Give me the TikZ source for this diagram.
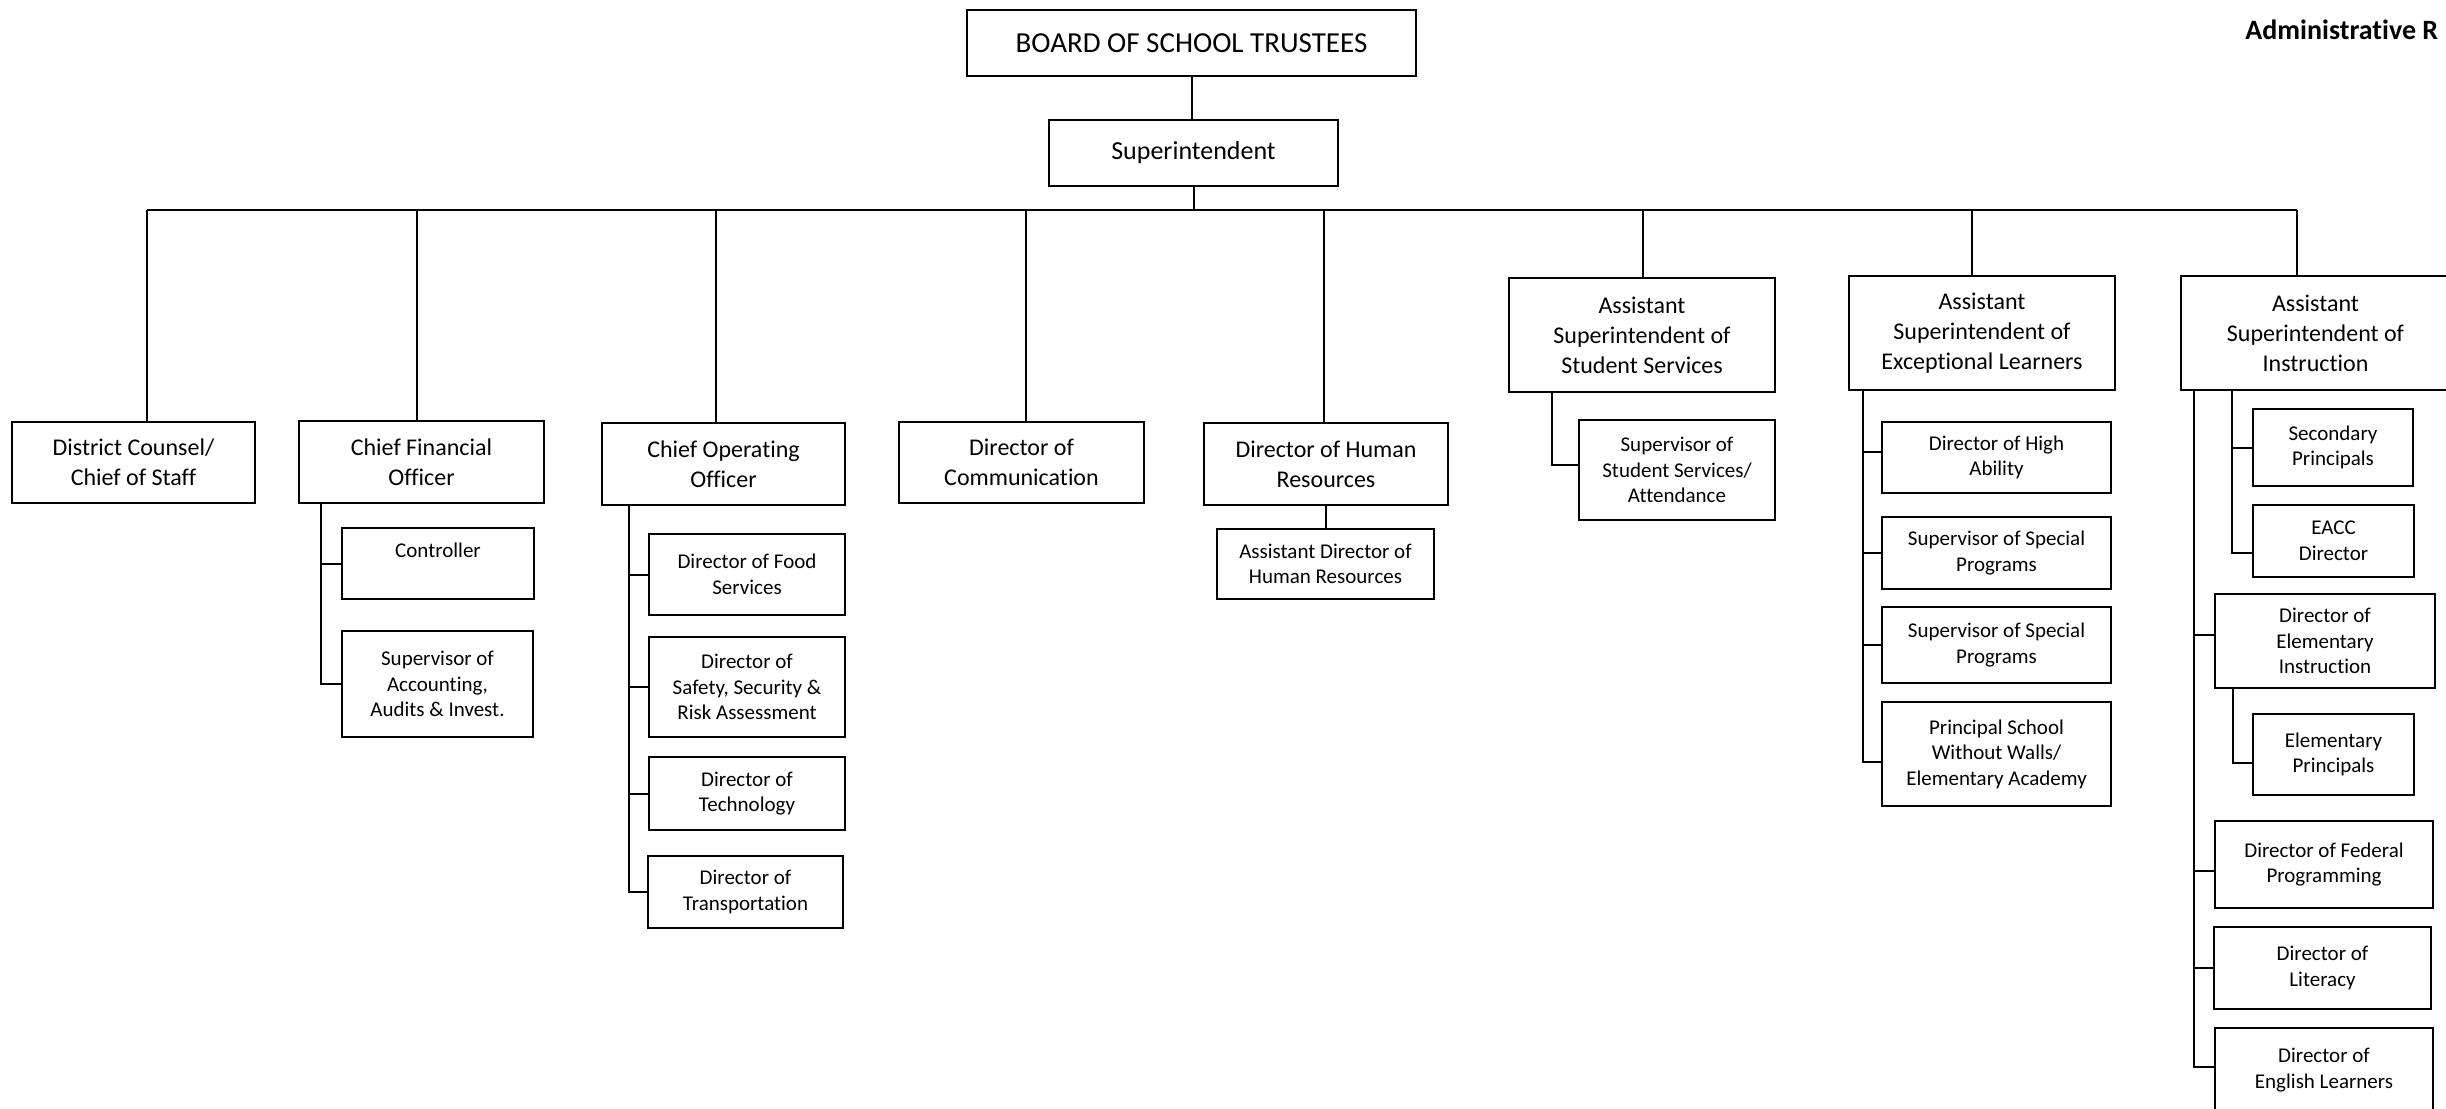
\documentclass[tikz,border=0pt]{standalone}
\usepackage{fontspec}
\setmainfont{Carlito}[Ligatures=NoCommon]
\tikzset{
  box/.style={draw, line width=1.1pt, align=center, inner sep=1pt},
  link/.style={line width=1pt},
  lvA/.style={font=\fontsize{14.5}{17}\selectfont},
  lvS/.style={font=\fontsize{13}{15}\selectfont},
  lvB/.style={font=\fontsize{12}{15}\selectfont},
  lvC/.style={font=\fontsize{10.5}{12.8}\selectfont},
}
\newcommand\orgbox[7]{\node[box,#6,minimum width={(#4-#2)*0.5pt},minimum height={(#5-#3)*0.5pt}] (#1) at ({(#2+#4)/2},{(#3+#5)/2}) {#7};}
\begin{document}
\begin{tikzpicture}[x=0.5pt,y=-0.5pt]
\useasboundingbox (0,0) rectangle (2446,1108);
% top
\orgbox{board}{967}{10}{1416}{76}{lvA}{BOARD OF SCHOOL TRUSTEES}
\orgbox{sup}{1049}{120}{1338}{186}{lvS}{Superintendent}
\node[anchor=west, inner sep=0pt, font=\bfseries\fontsize{14}{16}\selectfont] (admin) at (2245,30) {Administrative R};
% level 2
\orgbox{dc}{12}{422}{255}{503}{lvB}{District Counsel/\\Chief of Staff}
\orgbox{cfo}{299}{421}{544}{503}{lvB}{Chief Financial\\Officer}
\orgbox{coo}{602}{423}{845}{505}{lvB}{Chief Operating\\Officer}
\orgbox{com}{899}{422}{1144}{503}{lvB}{Director of\\Communication}
\orgbox{hr}{1204}{423}{1448}{505}{lvB}{Director of Human\\Resources}
\orgbox{ass}{1509}{278}{1775}{392}{lvB}{Assistant\\Superintendent of\\Student Services}
\orgbox{ael}{1849}{276}{2115}{390}{lvB}{Assistant\\Superintendent of\\Exceptional Learners}
\orgbox{asi}{2181}{276}{2450}{390}{lvB}{Assistant\\Superintendent of\\Instruction}
% level 3
\orgbox{ctrl}{342}{528}{534}{599}{lvC}{Controller\\\mbox{}}
\orgbox{acct}{342}{631}{533}{737}{lvC}{Supervisor of\\Accounting,\\Audits \& Invest.}
\orgbox{food}{649}{534}{845}{615}{lvC}{Director of Food\\Services}
\orgbox{safe}{649}{637}{845}{737}{lvC}{Director of\\Safety, Security \&\\Risk Assessment}
\orgbox{tech}{649}{757}{845}{830}{lvC}{Director of\\Technology}
\orgbox{trans}{648}{856}{843}{928}{lvC}{Director of\\Transportation}
\orgbox{ahr}{1217}{529}{1434}{599}{lvC}{Assistant Director of\\Human Resources}
\orgbox{sss}{1579}{420}{1775}{520}{lvC}{Supervisor of\\Student Services/\\Attendance}
\orgbox{high}{1882}{422}{2111}{493}{lvC}{Director of High\\Ability}
\orgbox{spa}{1882}{517}{2111}{589}{lvC}{Supervisor of Special\\Programs}
\orgbox{spb}{1882}{607}{2111}{683}{lvC}{Supervisor of Special\\Programs}
\orgbox{swow}{1882}{702}{2111}{806}{lvC}{Principal School\\Without Walls/\\Elementary Academy}
\orgbox{sec}{2253}{409}{2413}{486}{lvC}{Secondary\\Principals}
\orgbox{eacc}{2253}{505}{2414}{577}{lvC}{EACC\\Director}
\orgbox{dei}{2215}{594}{2435}{688}{lvC}{Director of\\Elementary\\Instruction}
\orgbox{ep}{2253}{714}{2414}{795}{lvC}{Elementary\\Principals}
\orgbox{fed}{2215}{821}{2433}{908}{lvC}{Director of Federal\\Programming}
\orgbox{lit}{2214}{927}{2431}{1009}{lvC}{Director of\\Literacy}
\orgbox{el}{2215}{1028}{2433}{1112}{lvC}{Director of\\English Learners}
% bus
\coordinate (busL) at (147,210);
\coordinate (busR) at (2297,210);
\coordinate (dCFO) at (417,210);
\coordinate (dCOO) at (716,210);
\coordinate (dCOM) at (1026,210);
\coordinate (dHR) at (1324,210);
\coordinate (dASS) at (1643,210);
\coordinate (dAEL) at (1972,210);
\draw[link] (board.south) -- (board.south |- sup.north);
\draw[link] (sup.south) -- (sup.south |- busL);
\draw[link] (busL) -- (busR);
\draw[link] (busL) -- (busL |- dc.north);
\draw[link] (dCFO) -- (dCFO |- cfo.north);
\draw[link] (dCOO) -- (dCOO |- coo.north);
\draw[link] (dCOM) -- (dCOM |- com.north);
\draw[link] (dHR) -- (dHR |- hr.north);
\draw[link] (dASS) -- (dASS |- ass.north);
\draw[link] (dAEL) -- (dAEL |- ael.north);
\draw[link] (busR) -- (busR |- asi.north);
% spines
\coordinate (sCFO) at (321,0);
\coordinate (sCOO) at (629,0);
\coordinate (sASS) at (1552,0);
\coordinate (sAEL) at (1863,0);
\coordinate (sOut) at (2194,0);
\coordinate (sIn) at (2232,0);
\coordinate (sEP) at (2233,0);
\draw[link] (sCFO |- cfo.south) |- (ctrl.west);
\draw[link] (sCFO |- cfo.south) |- (acct.west);
\draw[link] (sCOO |- coo.south) |- (food.west);
\draw[link] (sCOO |- coo.south) |- (safe.west);
\draw[link] (sCOO |- coo.south) |- (tech.west);
\draw[link] (sCOO |- coo.south) |- (trans.west);
\draw[link] (hr.south) -- (hr.south |- ahr.north);
\draw[link] (sASS |- ass.south) |- ([yshift=2.5pt]sss.west);
\draw[link] (sAEL |- ael.south) |- ([yshift=3pt]high.west);
\draw[link] (sAEL |- ael.south) |- (spa.west);
\draw[link] (sAEL |- ael.south) |- (spb.west);
\draw[link] (sAEL |- ael.south) |- ([yshift=-4pt]swow.west);
\draw[link] (sIn |- asi.south) |- (sec.west);
\draw[link] (sIn |- asi.south) |- ([yshift=-6pt]eacc.west);
\draw[link] (sOut |- asi.south) |- ([yshift=3pt]dei.west);
\draw[link] (sEP |- dei.south) |- ([yshift=-4pt]ep.west);
\draw[link] (sOut |- asi.south) |- ([yshift=-3pt]fed.west);
\draw[link] (sOut |- asi.south) |- (lit.west);
\draw[link] (sOut |- asi.south) |- ([yshift=1.5pt]el.west);
\end{tikzpicture}
\end{document}
